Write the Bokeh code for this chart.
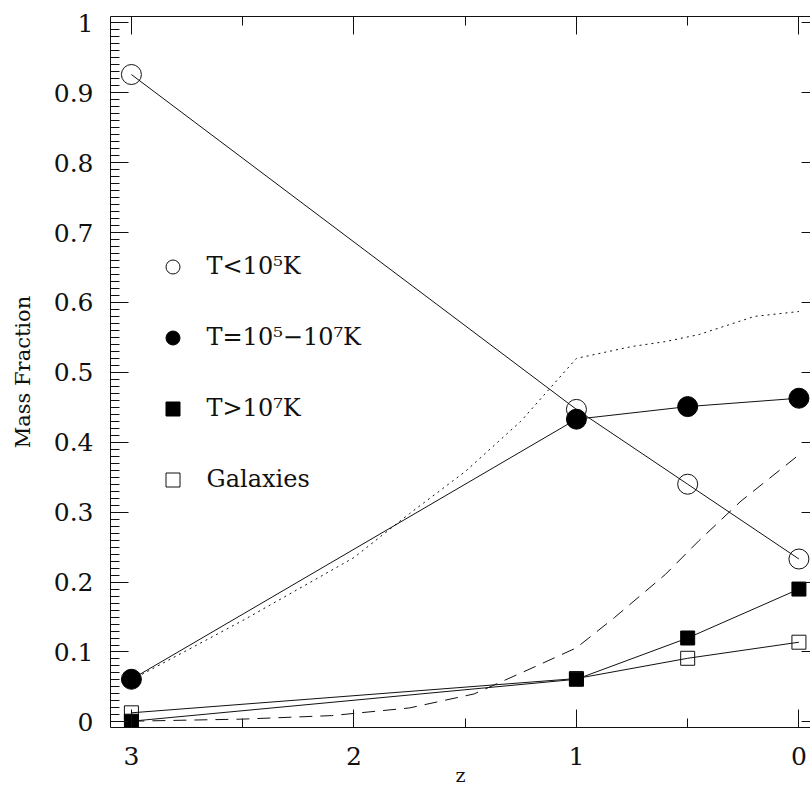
from bokeh.plotting import figure
from bokeh.models import Range1d, FixedTicker, LinearAxis, Legend, LegendItem
from bokeh.embed import file_html
from bokeh.resources import INLINE

# ---- data ----
redshift = [3.0, 1.0, 0.5, 0.0]
cold_gas = [0.926, 0.447, 0.340, 0.233]      # T < 1e5 K
warm_hot = [0.061, 0.433, 0.451, 0.463]      # T = 1e5 - 1e7 K
hot_gas = [0.001, 0.061, 0.120, 0.190]       # T > 1e7 K
galaxies = [0.013, 0.062, 0.091, 0.114]      # Galaxies

dotted_z = [3.0, 2.5, 2.25, 2.0, 1.75, 1.5, 1.25, 1.0, 0.75, 0.6, 0.45, 0.2, 0.0]
dotted_frac = [0.060, 0.145, 0.190, 0.235, 0.298, 0.358, 0.430, 0.520, 0.537, 0.544, 0.554, 0.580, 0.587]

dashed_z = [3.0, 2.5, 2.1, 1.75, 1.46, 1.2, 1.0, 0.83, 0.6, 0.45, 0.26, 0.0]
dashed_frac = [0.001, 0.004, 0.009, 0.020, 0.040, 0.077, 0.106, 0.149, 0.211, 0.259, 0.316, 0.382]

legend_labels = ["T<10\u2075K", "T=10\u2075\u221210\u2077K", "T>10\u2077K", "Galaxies"]

x_major = [3, 2, 1, 0]
x_minor = [2.5, 1.5, 0.5]
y_major = [0.0, 0.1, 0.2, 0.3, 0.4, 0.5, 0.6, 0.7, 0.8, 0.9, 1.0]
y_labels = ["0", "0.1", "0.2", "0.3", "0.4", "0.5", "0.6", "0.7", "0.8", "0.9", "1"]
y_minor = [i / 100 for i in range(0, 101)]
x_title = "z"
y_title = "Mass Fraction"

FONT = "DejaVu Serif"
INK = "#111111"

p = figure(width=810, height=789, output_backend="svg", toolbar_location=None,
           x_range=Range1d(3.094, -0.052), y_range=Range1d(-0.008, 1.009),
           min_border_left=110, min_border_right=0, min_border_top=16, min_border_bottom=62)
p.outline_line_color = None
p.xgrid.visible = False
p.ygrid.visible = False

def style_axis(ax, major_in=18, minor_in=9):
    ax.major_tick_in = major_in
    ax.major_tick_out = 0
    ax.minor_tick_in = minor_in
    ax.minor_tick_out = 0
    ax.axis_line_color = INK
    ax.major_tick_line_color = INK
    ax.minor_tick_line_color = INK
    ax.major_label_text_font = FONT
    ax.major_label_text_color = INK
    ax.axis_label_text_font = FONT
    ax.axis_label_text_font_style = "normal"
    ax.axis_label_text_color = INK

xa = p.xaxis[0]
xa.ticker = FixedTicker(ticks=x_major, minor_ticks=x_minor)
style_axis(xa)
xa.major_label_text_font_size = "25px"
xa.major_label_standoff = 19
xa.axis_label = x_title
xa.axis_label_text_font_size = "19px"
xa.axis_label_standoff = -4

ya = p.yaxis[0]
ya.ticker = FixedTicker(ticks=y_major, minor_ticks=y_minor)
style_axis(ya)
ya.major_label_overrides = {v: s for v, s in zip(y_major, y_labels)}
ya.major_label_text_font_size = "25px"
ya.major_label_standoff = 17
ya.axis_label = y_title
ya.axis_label_text_font_size = "21px"
ya.axis_label_standoff = 16

top = LinearAxis(ticker=FixedTicker(ticks=x_major, minor_ticks=x_minor))
style_axis(top)
top.major_label_overrides = {v: "" for v in x_major}
top.major_label_standoff = 0
p.add_layout(top, "above")

right = LinearAxis(ticker=FixedTicker(ticks=y_major, minor_ticks=[]))
style_axis(right, major_in=9, minor_in=0)
right.axis_line_color = None
right.major_label_overrides = {v: "" for v in y_major}
right.major_label_standoff = 0
p.add_layout(right, "right")

# ---- curves ----
p.line(dotted_z, dotted_frac, line_color=INK, line_width=1, line_dash="2 4")
p.line(dashed_z, dashed_frac, line_color=INK, line_width=1, line_dash="13 8")
for ys in (cold_gas, warm_hot, hot_gas, galaxies):
    p.line(redshift, ys, line_color=INK, line_width=1)

r_cold = p.scatter(redshift, cold_gas, marker="circle", size=20, fill_color=None,
                   line_color=INK, line_width=1)
r_gal = p.scatter(redshift, galaxies, marker="square", size=14, fill_color=None,
                  line_color=INK, line_width=1)
r_hot = p.scatter(redshift, hot_gas, marker="square", size=14, fill_color="black",
                  line_color="black", line_width=1)
r_warm = p.scatter(redshift, warm_hot, marker="circle", size=20, fill_color="black",
                   line_color="black", line_width=1)

legend = Legend(items=[LegendItem(label=legend_labels[0], renderers=[r_cold]),
                       LegendItem(label=legend_labels[1], renderers=[r_warm]),
                       LegendItem(label=legend_labels[2], renderers=[r_hot]),
                       LegendItem(label=legend_labels[3], renderers=[r_gal])],
                location=(44.5, 230.5), glyph_width=35, glyph_height=35,
                spacing=36, padding=0, margin=0, label_standoff=17,
                label_text_font=FONT, label_text_font_size="24px", label_text_color=INK,
                border_line_color=None, background_fill_alpha=0)
p.add_layout(legend)

open("out.html", "w").write(file_html(p, INLINE))
